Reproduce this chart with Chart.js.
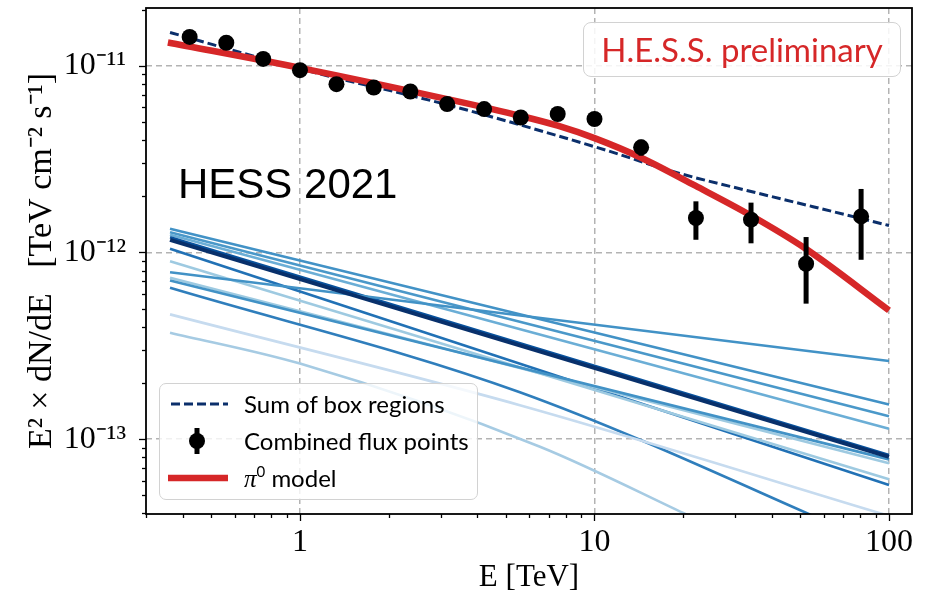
<!DOCTYPE html>
<html><head><meta charset="utf-8">
<script src="https://cdn.jsdelivr.net/npm/chart.js@4/dist/chart.umd.min.js"></script>
<style>
html,body{margin:0;padding:0;background:#fff;}
#wrap{position:relative;width:925px;height:596px;overflow:hidden;}
#c{position:absolute;left:0;top:0;}
#hess{position:absolute;left:583px;top:22px;width:316px;height:53px;border:1.5px solid #d2d2d2;border-radius:8px;background:rgba(255,255,255,0.85);color:#d62728;font-family:Lato,"Open Sans",sans-serif;font-size:33px;line-height:53px;text-align:center;box-sizing:content-box;}
#year{position:absolute;left:178px;top:160px;font-family:"Liberation Sans",Arial,sans-serif;font-size:42px;line-height:48px;color:#000;}
#legend{position:absolute;left:159px;top:383px;width:317px;height:115px;border:1.5px solid #d2d2d2;border-radius:7px;background:rgba(255,255,255,0.8);font-family:Lato,"Open Sans",sans-serif;font-size:24px;color:#000;}
.row{position:absolute;left:0;height:36px;width:317px;}
.row svg{position:absolute;left:6px;top:0;}
.row span{position:absolute;left:84px;top:3px;line-height:30px;white-space:nowrap;}
sup{font-size:15px;line-height:0;vertical-align:10px;}
</style></head><body>
<div id="wrap">
<canvas id="c" width="925" height="596"></canvas>
<div id="hess">H.E.S.S. preliminary</div>
<div id="year">HESS 2021</div>
<div id="legend">
 <div class="row" style="top:2px"><svg width="70" height="36"><line x1="5" y1="18" x2="62" y2="18" stroke="#0b2f6b" stroke-width="3" stroke-dasharray="9,4"/></svg><span>Sum of box regions</span></div>
 <div class="row" style="top:39px"><svg width="70" height="36"><line x1="31" y1="5" x2="31" y2="31" stroke="#000" stroke-width="5"/><circle cx="31" cy="18" r="8" fill="#000"/></svg><span>Combined flux points</span></div>
 <div class="row" style="top:76px"><svg width="70" height="36"><line x1="2" y1="18" x2="62" y2="18" stroke="#d62728" stroke-width="6.5"/></svg><span><i style="font-family:'Liberation Serif',serif;font-size:25px">π</i><sup>0</sup> model</span></div>
</div>
</div>
<script>
// ---- data ----
const fluxE  = [0.422,0.562,0.750,1.00,1.33,1.78,2.37,3.16,4.22,5.62,7.50,10.0,14.4,22.1,34.0,52.3,80.4];
const fluxF  = [1.43e-11,1.33e-11,1.09e-11,9.48e-12,7.98e-12,7.65e-12,7.29e-12,6.24e-12,5.87e-12,5.29e-12,5.52e-12,5.19e-12,3.66e-12,1.53e-12,1.50e-12,8.70e-13,1.56e-12];
const fluxLo = [1.39e-11,1.29e-11,1.06e-11,9.25e-12,7.80e-12,7.47e-12,7.10e-12,6.05e-12,5.66e-12,5.08e-12,5.27e-12,4.93e-12,3.30e-12,1.17e-12,1.12e-12,5.32e-13,9.14e-13];
const fluxHi = [1.47e-11,1.37e-11,1.12e-11,9.71e-12,8.16e-12,7.83e-12,7.48e-12,6.43e-12,6.08e-12,5.50e-12,5.77e-12,5.45e-12,4.02e-12,1.88e-12,1.85e-12,1.21e-12,2.19e-12];

const modelE = [0.356,1,3.16,5.6,7.5,10,14.4,22,34,52,100];
const modelF = [1.335e-11,9.76e-12,6.64e-12,5.40e-12,4.78e-12,4.10e-12,3.22e-12,2.28e-12,1.578e-12,1.05e-12,4.90e-13];

const sumE = [0.362,1,3.16,10,19.5,32.9,55.2,100];
const sumF = [1.51e-11,9.64e-12,6.19e-12,3.69e-12,2.65e-12,2.15e-12,1.76e-12,1.395e-12];

// individual box-region spectra: [E, flux] pairs
const boxLines = [
 [[0.362,1.339e-12],[100,1.533e-13]],
 [[0.362,1.284e-12],[100,1.327e-13]],
 [[0.362,1.243e-12],[100,1.135e-13]],
 [[0.362,1.207e-12],[100,8.21e-14]],
 [[0.362,1.046e-12],[100,5.68e-14]],
 [[0.362,8.98e-13],[100,6.09e-14]],
 [[0.362,7.84e-13],[100,2.62e-13]],
 [[0.362,7.32e-13],[100,7.42e-14]],
 [[0.362,7.08e-13],[100,7.79e-14]],
 [[0.362,6.47e-13],[5.58,1.784e-13],[100,2.58e-14]],
 [[0.362,4.66e-13],[5.58,1.52e-13],[100,3.88e-14]],
 [[0.362,3.72e-13],[1,2.54e-13],[6.53,9.1e-14],[20,4.02e-14],[33.7,2.71e-14]],
 [[0.362,1.169e-12],[100,8.04e-14]]
];
const boxColors = ['#4292c6','#4a98c9','#6baed6','#08519c','#2171b5','#9ecae1','#4292c6','#9ecae1','#4292c6','#2f7ebc','#c6dbef','#a6cbe3','#08306b'];
const boxWidths = [2.6,2.6,2.6,2.8,2.6,2.6,2.6,2.6,2.6,2.6,2.6,2.6,4];

const xMajor = [1,10,100];
const xTickLabels = ['1','10','100'];
const xMinor = [0.3,0.4,0.5,0.6,0.7,0.8,0.9,2,3,4,5,6,7,8,9,20,30,40,50,60,70,80,90];
const yMajor = [1e-13,1e-12,1e-11];
const yTickLabels = ['10\u207B\u00B9\u00B3','10\u207B\u00B9\u00B2','10\u207B\u00B9\u00B9'];
const yMinor = [4e-14,5e-14,6e-14,7e-14,8e-14,9e-14,2e-13,3e-13,4e-13,5e-13,6e-13,7e-13,8e-13,9e-13,2e-12,3e-12,4e-12,5e-12,6e-12,7e-12,8e-12,9e-12,2e-11];

// ---- datasets ----
const datasets = [];
datasets.push({label:'Combined flux points', data: fluxE.map((e,i)=>({x:e,y:fluxF[i]})), showLine:false,
  pointRadius:8, pointHoverRadius:8, pointBackgroundColor:'#000', pointBorderColor:'#000', pointBorderWidth:0});
fluxE.forEach((e,i)=>{
  datasets.push({label:'err'+i, data:[{x:e,y:fluxLo[i]},{x:e,y:fluxHi[i]}], borderColor:'#000', borderWidth:5,
    pointRadius:0, borderCapStyle:'butt', clip:false});
});
datasets.push({label:'\u03C0\u2070 model', data: modelE.map((e,i)=>({x:e,y:modelF[i]})), borderColor:'#d62728', borderWidth:6.5,
  pointRadius:0, cubicInterpolationMode:'monotone', borderCapStyle:'butt'});
datasets.push({label:'Sum of box regions', data: sumE.map((e,i)=>({x:e,y:sumF[i]})), borderColor:'#0b2f6b', borderWidth:3,
  borderDash:[9,4], pointRadius:0, cubicInterpolationMode:'monotone'});
for (let k = boxLines.length-1; k>=0; k--) {
  datasets.push({label:'box'+k, data: boxLines[k].map(p=>({x:p[0],y:p[1]})), borderColor:boxColors[k], borderWidth:boxWidths[k],
    pointRadius:0, cubicInterpolationMode:'monotone', clip:0});
}

const frameTicks = {
  id:'frameTicks',
  afterDraw(chart){
    const {ctx, chartArea:a, scales:{x,y}} = chart;
    ctx.save();
    ctx.strokeStyle = '#000';
    ctx.lineWidth = 1.3;
    x.ticks.forEach(t=>{
      const px = Math.round(x.getPixelForValue(t.value))+0.5;
      const len = xMajor.includes(t.value) ? 7 : 4;
      ctx.beginPath(); ctx.moveTo(px,a.bottom); ctx.lineTo(px,a.bottom+len); ctx.stroke();
    });
    y.ticks.forEach(t=>{
      const py = Math.round(y.getPixelForValue(t.value))+0.5;
      const len = yMajor.includes(t.value) ? 7 : 4;
      ctx.beginPath(); ctx.moveTo(a.left,py); ctx.lineTo(a.left-len,py); ctx.stroke();
    });
    ctx.lineWidth = 1.8;
    ctx.strokeRect(a.left, a.top, a.right-a.left, a.bottom-a.top);
    ctx.restore();
  }
};

new Chart(document.getElementById('c'), {
  type:'line',
  data:{datasets},
  options:{
    responsive:false, animation:false, events:[],
    layout:{padding:{top:7,right:13,left:0,bottom:0}},
    plugins:{legend:{display:false}, tooltip:{enabled:false}},
    scales:{
      x:{type:'logarithmic', min:0.3, max:119.7,
        afterBuildTicks:s=>{ s.ticks = xMinor.concat(xMajor).sort((a,b)=>a-b).map(v=>({value:v})); },
        afterFit:s=>{ s.height = 82; s.paddingLeft = 0; s.paddingRight = 0; },
        grid:{color:c=>(c.tick && xMajor.includes(c.tick.value)) ? '#b3b3b3' : 'rgba(0,0,0,0)', lineWidth:1.5, drawTicks:false},
        border:{display:false, dash:[6,4]},
        ticks:{autoSkip:false, maxRotation:0, padding:9, color:'#000', font:{family:'Liberation Serif', size:32},
          callback:v=>{ const i = xMajor.indexOf(v); return i>=0 ? xTickLabels[i] : ''; }},
        title:{display:true, text:'E [TeV]', color:'#000', font:{family:'Liberation Serif', size:31}, padding:{top:0,bottom:0}}
      },
      y:{type:'logarithmic', min:3.97e-14, max:2.042e-11,
        afterBuildTicks:s=>{ s.ticks = yMinor.concat(yMajor).sort((a,b)=>a-b).map(v=>({value:v})); },
        afterFit:s=>{ s.width = 146; s.paddingTop = 0; s.paddingBottom = 0; },
        grid:{color:c=>(c.tick && yMajor.includes(c.tick.value)) ? '#b3b3b3' : 'rgba(0,0,0,0)', lineWidth:1.5, drawTicks:false},
        border:{display:false, dash:[6,4]},
        ticks:{autoSkip:false, padding:20, color:'#000', font:{family:'Liberation Serif', size:32},
          callback:v=>{ const i = yMajor.indexOf(v); return i>=0 ? yTickLabels[i] : ''; }},
        title:{display:true, text:'E\u00B2 \u00D7 dN/dE   [TeV cm\u207B\u00B2 s\u207B\u00B9]', color:'#000', font:{family:'Liberation Serif', size:34}, padding:{top:22,bottom:0}}
      }
    }
  },
  plugins:[frameTicks]
});
</script>
</body></html>
